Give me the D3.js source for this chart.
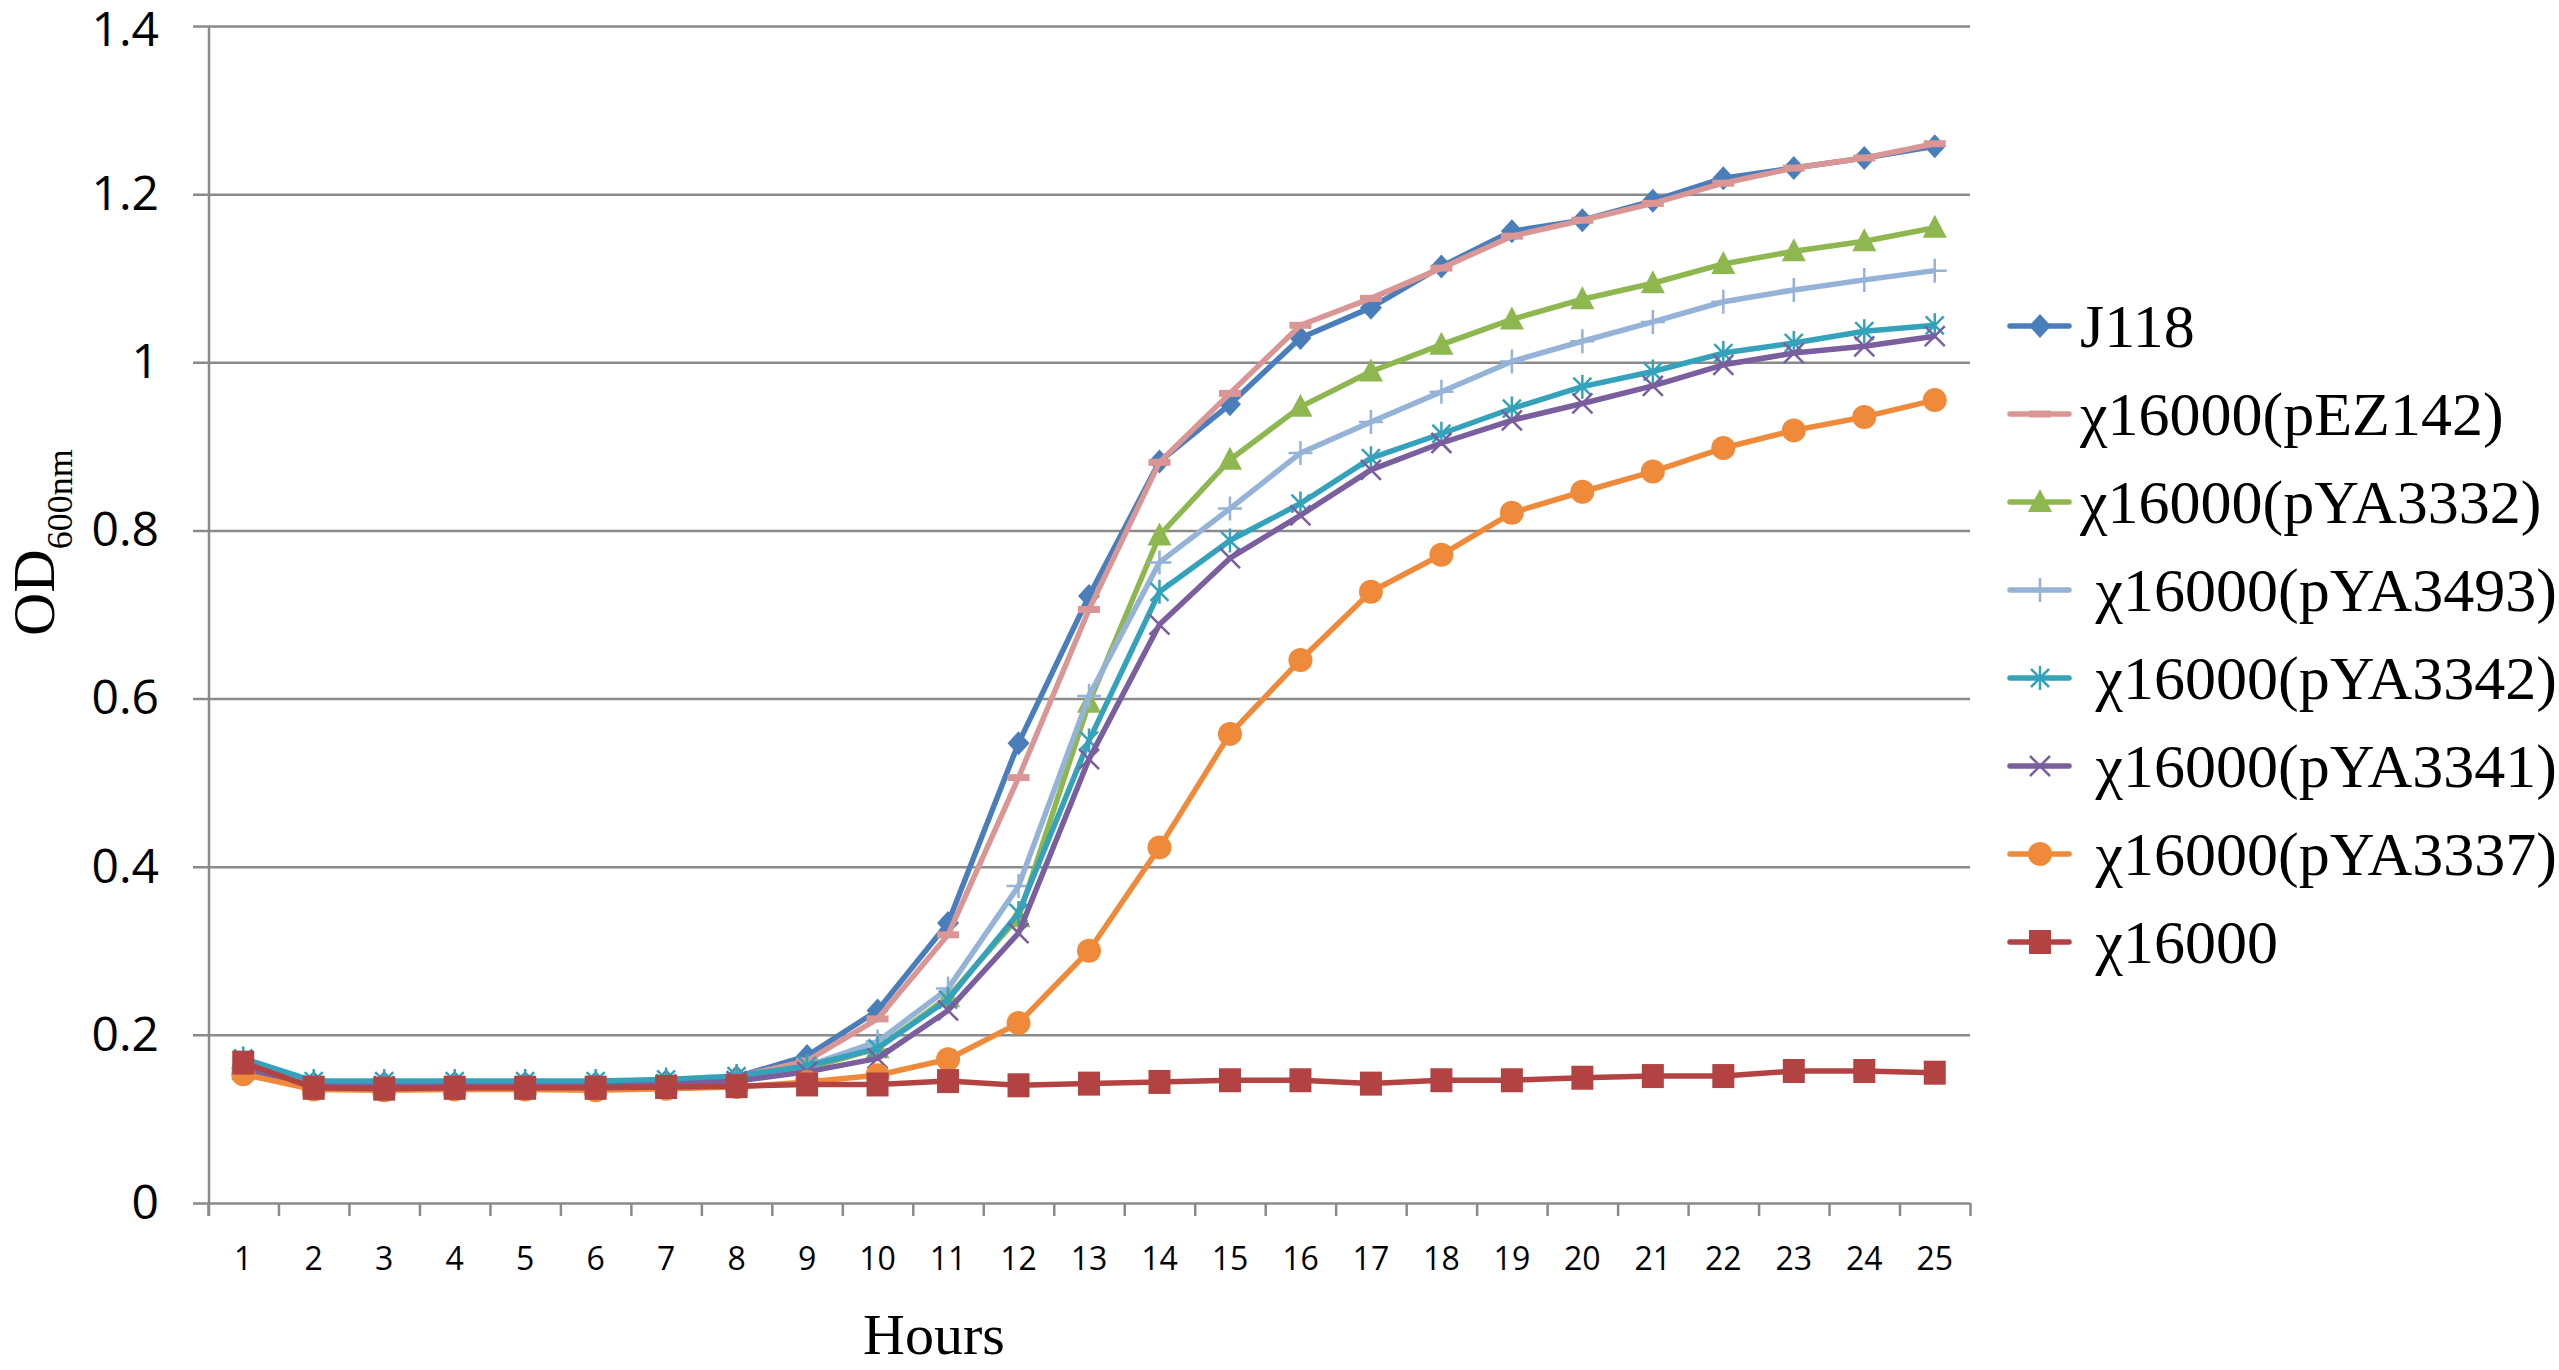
<!DOCTYPE html>
<html>
<head>
<meta charset="utf-8">
<script src="https://cdn.jsdelivr.net/npm/d3@7"></script>
<style>
  body { margin: 0; background: #fff; }
  svg { display: block; }
</style>
</head>
<body>
<div id="chart"></div>
<script>
// categories and tick labels
var hours = [1, 2, 3, 4, 5, 6, 7, 8, 9, 10, 11, 12, 13, 14, 15, 16, 17, 18, 19, 20, 21, 22, 23, 24, 25];
var yTicks = [0, 0.2, 0.4, 0.6, 0.8, 1, 1.2, 1.4];
var yTickLabels = ["0", "0.2", "0.4", "0.6", "0.8", "1", "1.2", "1.4"];

// series names (some legend entries carry a leading space, as in the original)
var seriesNames = ["J118", "χ16000(pEZ142)", "χ16000(pYA3332)", " χ16000(pYA3493)",
                   " χ16000(pYA3342)", " χ16000(pYA3341)", " χ16000(pYA3337)", " χ16000"];

// OD600 readings per hour
var j118    = [0.165, 0.143, 0.143, 0.143, 0.143, 0.143, 0.145, 0.150, 0.175, 0.229, 0.333, 0.547, 0.722, 0.882, 0.950, 1.029, 1.065, 1.114, 1.156, 1.169, 1.192, 1.219, 1.231, 1.243, 1.257];
var pEZ142  = [0.160, 0.140, 0.140, 0.140, 0.140, 0.140, 0.142, 0.150, 0.169, 0.219, 0.319, 0.506, 0.706, 0.881, 0.963, 1.044, 1.076, 1.112, 1.150, 1.169, 1.189, 1.213, 1.231, 1.243, 1.260];
var pYA3332 = [0.158, 0.140, 0.140, 0.140, 0.140, 0.140, 0.142, 0.147, 0.160, 0.184, 0.245, 0.340, 0.595, 0.794, 0.884, 0.947, 0.989, 1.021, 1.051, 1.075, 1.094, 1.117, 1.132, 1.144, 1.160];
var pYA3493 = [0.160, 0.141, 0.141, 0.141, 0.141, 0.141, 0.143, 0.148, 0.163, 0.192, 0.255, 0.377, 0.603, 0.762, 0.826, 0.892, 0.929, 0.965, 1.001, 1.025, 1.048, 1.072, 1.086, 1.098, 1.109];
var pYA3342 = [0.172, 0.145, 0.145, 0.145, 0.145, 0.145, 0.147, 0.151, 0.163, 0.184, 0.242, 0.345, 0.550, 0.727, 0.788, 0.832, 0.886, 0.915, 0.945, 0.971, 0.989, 1.011, 1.023, 1.037, 1.044];
var pYA3341 = [0.160, 0.139, 0.139, 0.139, 0.139, 0.139, 0.141, 0.145, 0.156, 0.172, 0.229, 0.321, 0.528, 0.688, 0.767, 0.818, 0.872, 0.904, 0.931, 0.951, 0.972, 0.997, 1.011, 1.019, 1.031];
var pYA3337 = [0.153, 0.135, 0.134, 0.135, 0.135, 0.134, 0.136, 0.138, 0.144, 0.152, 0.171, 0.214, 0.300, 0.423, 0.558, 0.646, 0.727, 0.771, 0.821, 0.846, 0.870, 0.898, 0.919, 0.935, 0.955];
var x16000  = [0.167, 0.137, 0.136, 0.137, 0.137, 0.137, 0.138, 0.139, 0.141, 0.141, 0.145, 0.140, 0.142, 0.144, 0.146, 0.146, 0.142, 0.146, 0.146, 0.149, 0.151, 0.151, 0.157, 0.157, 0.155];

var seriesValues = [j118, pEZ142, pYA3332, pYA3493, pYA3342, pYA3341, pYA3337, x16000];
var colors  = ["#4a7ebb", "#da9694", "#8fb74f", "#95b3d7", "#35a2bb", "#7a5e9e", "#ee8a3a", "#b34343"];
var markers = ["diamond", "dash", "triangle", "plus", "star", "cross", "circle", "square"];

var width = 2559, height = 1370;
var sansFont = "'Open Sans', 'Noto Sans', sans-serif";
var serifFont = "'Liberation Serif', 'Times New Roman', serif";
var gridColor = "#8a8a8a";

var svg = d3.select("#chart").append("svg")
    .attr("width", width)
    .attr("height", height);

svg.append("rect").attr("width", width).attr("height", height).attr("fill", "#fff");

var x = d3.scaleBand().domain(hours).range([208, 1970]).paddingInner(0).paddingOuter(0);
var y = d3.scaleLinear().domain([0, 1.4]).range([1203, 26]);
var cx = function (h) { return x(h) + x.bandwidth() / 2; };

// gridlines + y tick labels (ticks reach left past the axis line)
svg.append("g")
    .attr("transform", "translate(1970,0)")
    .call(d3.axisLeft(y).tickValues(yTicks).tickSize(1970 - 193).tickPadding(34)
        .tickFormat(function (d, i) { return yTickLabels[i]; }))
    .call(function (g) { g.select(".domain").remove(); })
    .call(function (g) { g.selectAll("line").attr("stroke", gridColor).attr("stroke-width", 2.5); })
    .call(function (g) {
        g.selectAll("text").attr("font-family", sansFont).attr("font-size", 48).attr("fill", "#000");
        // keep the top label inside the picture
        g.selectAll("text").filter(function (d) { return d === 1.4; }).attr("dy", "0.40em");
    });

// x tick marks sit on the category boundaries
var edge = d3.scaleLinear().domain([0, hours.length]).range(x.range());
svg.append("g")
    .attr("transform", "translate(0," + y(0) + ")")
    .call(d3.axisBottom(edge).tickValues(d3.range(hours.length + 1)).tickSize(13).tickFormat(""))
    .call(function (g) { g.select(".domain").remove(); })
    .call(function (g) { g.selectAll("line").attr("stroke", gridColor).attr("stroke-width", 2.5); });

// x labels at the category centres
svg.append("g")
    .attr("transform", "translate(0," + y(0) + ")")
    .call(d3.axisBottom(x).tickSize(0).tickPadding(44))
    .call(function (g) { g.select(".domain").remove(); })
    .call(function (g) {
        g.selectAll("text").attr("font-family", sansFont).attr("font-size", 32).attr("fill", "#000");
    });

// vertical axis line
svg.append("line")
    .attr("x1", 209).attr("x2", 209)
    .attr("y1", y(1.4)).attr("y2", y(0) + 13)
    .attr("stroke", gridColor).attr("stroke-width", 2.5);

function drawMarker(g, type, color) {
    if (type === "diamond") {
        g.append("path").attr("d", "M0,-12L11,0L0,12L-11,0Z").attr("fill", color);
    } else if (type === "dash") {
        g.append("rect").attr("x", -11).attr("y", -3.5).attr("width", 22).attr("height", 7).attr("fill", color);
    } else if (type === "triangle") {
        g.append("path").attr("d", "M0,-13L12,10L-12,10Z").attr("fill", color);
    } else if (type === "plus") {
        g.append("path").attr("d", "M-12,0H12M0,-12V12").attr("stroke", color).attr("stroke-width", 2.5);
    } else if (type === "star") {
        g.append("path").attr("d", "M-9,-9L9,9M-9,9L9,-9M0,-12V12").attr("stroke", color).attr("stroke-width", 2.5);
    } else if (type === "cross") {
        g.append("path").attr("d", "M-10,-10L10,10M-10,10L10,-10").attr("stroke", color).attr("stroke-width", 2.5);
    } else if (type === "circle") {
        g.append("circle").attr("r", 12).attr("fill", color);
    } else if (type === "square") {
        g.append("rect").attr("x", -11).attr("y", -12).attr("width", 22).attr("height", 24).attr("fill", color);
    }
}

var line = d3.line()
    .x(function (d, i) { return cx(hours[i]); })
    .y(function (d) { return y(d); });

var plot = svg.append("g");
seriesValues.forEach(function (vals, s) {
    var g = plot.append("g");
    g.append("path")
        .attr("d", line(vals))
        .attr("fill", "none")
        .attr("stroke", colors[s])
        .attr("stroke-width", 5.5)
        .attr("stroke-linejoin", "round");
    vals.forEach(function (v, i) {
        var m = g.append("g").attr("transform", "translate(" + cx(hours[i]) + "," + y(v) + ")");
        drawMarker(m, markers[s], colors[s]);
    });
});

// legend
var legend = svg.append("g");
seriesNames.forEach(function (name, s) {
    var ly = 326 + s * 88;
    var row = legend.append("g").attr("transform", "translate(0," + ly + ")");
    row.append("line")
        .attr("x1", 2010).attr("x2", 2069).attr("y1", 0).attr("y2", 0)
        .attr("stroke", colors[s]).attr("stroke-width", 5.5).attr("stroke-linecap", "round");
    drawMarker(row.append("g").attr("transform", "translate(2040,0)"), markers[s], colors[s]);
    row.append("text")
        .attr("x", 2080).attr("y", 21)
        .attr("font-family", serifFont).attr("font-size", 62)
        .style("white-space", "pre")
        .text(name);
});

// axis titles
var yTitle = svg.append("text")
    .attr("transform", "translate(54,636) rotate(-90)")
    .attr("font-family", serifFont).attr("font-size", 60);
yTitle.append("tspan").text("OD");
yTitle.append("tspan").attr("font-size", 36).attr("dy", 18).text("600nm");

svg.append("text")
    .attr("x", 934).attr("y", 1354)
    .attr("text-anchor", "middle")
    .attr("font-family", serifFont).attr("font-size", 58)
    .text("Hours");
</script>
</body>
</html>
